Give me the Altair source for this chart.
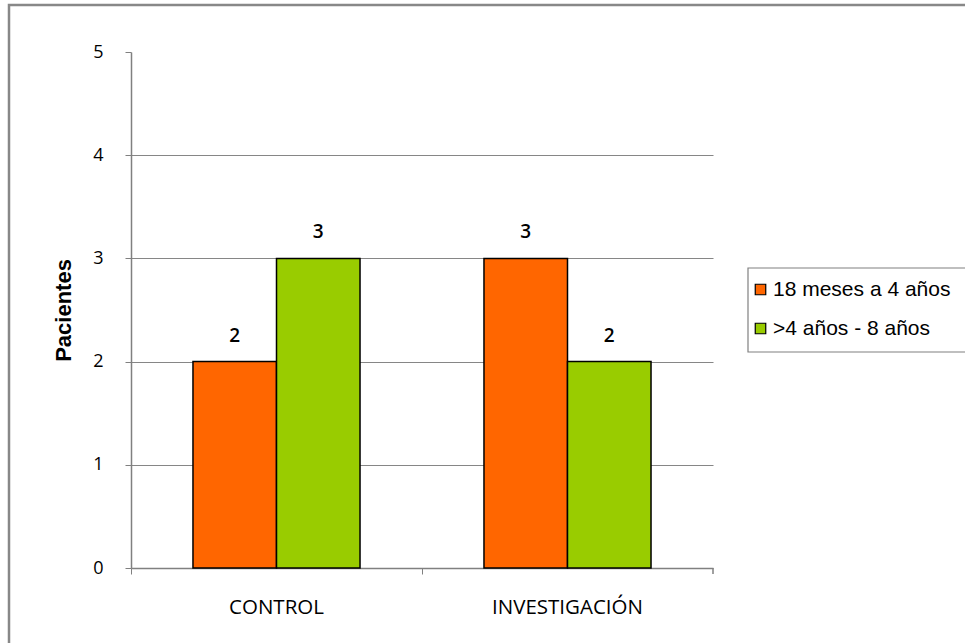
import altair as alt
import pandas as pd

categories = ["CONTROL", "INVESTIGACIÓN"]
groups = ["18 meses a 4 años", ">4 años - 8 años"]
values_18m_4a = [2, 3]
values_4a_8a = [3, 2]
colors = ["#FF6600", "#99CC00"]
y_ticks = [0, 1, 2, 3, 4, 5]

rows = []
for i, c in enumerate(categories):
    rows.append({"grupo": c, "edad": groups[0], "pacientes": values_18m_4a[i]})
    rows.append({"grupo": c, "edad": groups[1], "pacientes": values_4a_8a[i]})
df = pd.DataFrame(rows)

W, H = 582, 516
LEFT = 131

x_enc = alt.X(
    "grupo:N",
    sort=categories,
    scale=alt.Scale(paddingInner=0, paddingOuter=0),
    axis=alt.Axis(
        title=None, labelAngle=0, bandPosition=0,
        labelFont="Open Sans", labelFontSize=20.5, labelColor="#000",
        labelPadding=23, tickColor="#808080", tickSize=6,
        domainColor="#808080", domainWidth=1.5, grid=False,
    ),
)
xoff_enc = alt.XOffset(
    "edad:N", sort=groups,
    scale=alt.Scale(paddingInner=0, paddingOuter=0.742),
)
y_enc = alt.Y(
    "pacientes:Q",
    scale=alt.Scale(domain=[0, 5], nice=False),
    axis=alt.Axis(
        title="Pacientes", titleFont="Liberation Sans", titleFontSize=22,
        titleFontWeight="bold", titleColor="#000", titlePadding=17,
        values=y_ticks, format="d",
        labelFont="Open Sans", labelFontSize=18, labelColor="#000",
        labelPadding=22, tickColor="#808080", tickSize=6,
        domainColor="#808080", domainWidth=1.5,
        grid=True,
        gridColor={"condition": {"test": "datum.value === 5 || datum.value === 0", "value": "transparent"}, "value": "#868686"},
        gridWidth=1.2,
    ),
)

bars = alt.Chart(df).mark_bar(stroke="black", strokeWidth=1.5).encode(
    x=x_enc,
    xOffset=xoff_enc,
    y=y_enc,
    color=alt.Color(
        "edad:N", sort=groups,
        scale=alt.Scale(domain=groups, range=colors),
        legend=alt.Legend(
            title=None, orient="none", legendX=619, legendY=227,
            symbolType="square", symbolSize=110, symbolStrokeColor="black",
            symbolStrokeWidth=1.2, labelFont="Liberation Sans",
            labelFontSize=21, labelColor="#000", rowPadding=17, padding=0,
            labelOffset=2, labelLimit=300,
        ),
    ),
)

labels = alt.Chart(df).mark_text(
    dy=-26, font="Open Sans", fontSize=19, fontWeight=600, color="#000"
).encode(
    x=alt.X("grupo:N", sort=categories),
    xOffset=alt.XOffset("edad:N", sort=groups),
    y="pacientes:Q",
    text=alt.Text("pacientes:Q", format="d"),
)

one = pd.DataFrame({"k": [0]})
frame = alt.Chart(one).mark_rect(fill="transparent", stroke="#888888", strokeWidth=2.5).encode(
    x=alt.value(9 - LEFT), x2=alt.value(W + 280), y=alt.value(-47), y2=alt.value(H + 100)
)
legend_box = alt.Chart(one).mark_rect(fill="transparent", stroke="#808080", strokeWidth=1.2).encode(
    x=alt.value(748 - LEFT), x2=alt.value(W + 280), y=alt.value(216), y2=alt.value(300)
)
right_tick = alt.Chart(one).mark_rule(color="#808080", strokeWidth=1.5).encode(
    x=alt.value(W), y=alt.value(H), y2=alt.value(H + 6)
)

chart = alt.layer(frame, legend_box, bars, labels, right_tick).properties(
    width=W, height=H,
    autosize=alt.AutoSizeParams(type="none"),
    padding={"left": LEFT, "top": 52, "right": 965 - LEFT - W, "bottom": 643 - 52 - H},
    background="white",
).configure_view(stroke=None)

chart.save("out.html", embed_options={"renderer": "svg", "actions": False})
